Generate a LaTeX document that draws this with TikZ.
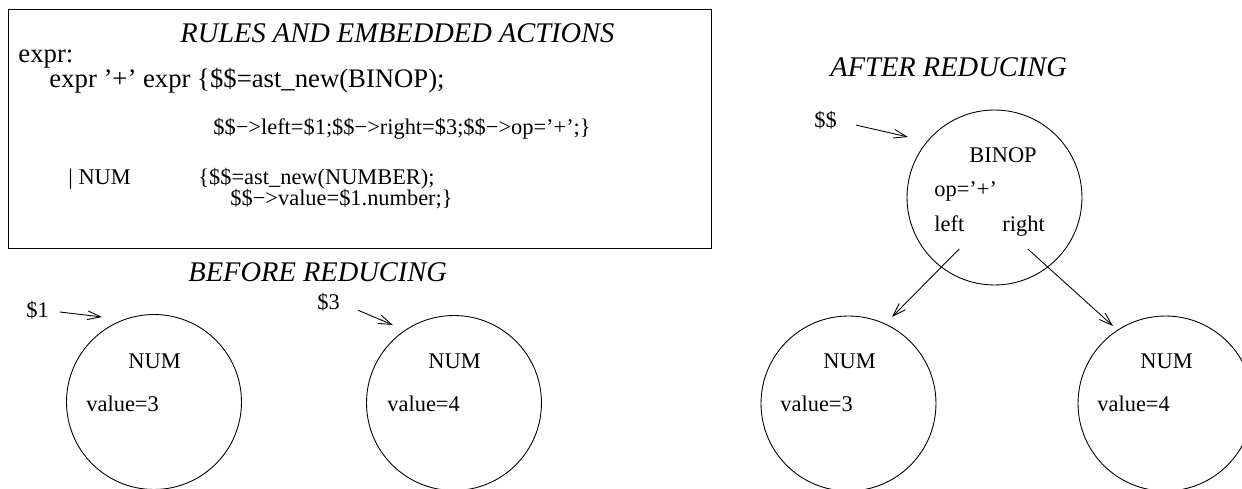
\documentclass[tikz,border=0pt]{standalone}
\usepackage{fontspec}
\setmainfont{Liberation Serif}
\usetikzlibrary{arrows.meta}

\tikzset{
  txt/.style={inner sep=0pt, anchor=base west, font=\fontsize{12.75}{15}\selectfont},
  bigtxt/.style={txt, font=\fontsize{15.2}{18}\selectfont},
  head/.style={inner sep=0pt, anchor=base west, font=\fontsize{16.2}{19}\selectfont\itshape},
  obj/.style={circle, draw, minimum size=3.5cm, inner sep=0pt},
  ptr/.style={-{Straight Barb[length=7.5pt,width=5pt]}},
}

\begin{document}
\begin{tikzpicture}[x=0.02cm, y=-0.02cm, line width=0.5pt]
  \useasboundingbox (0,0) rectangle (1242,489);
  \clip (0,0) rectangle (1242,489);
  % grammar rules
  \draw (8,9) rectangle (711,248);
  \node[head] (rules) at (180,43) {RULES AND EMBEDDED ACTIONS};
  \node[bigtxt] (lhs) at (18,63) {expr:};
  \node[bigtxt] (alt1) at (49,88) {expr '+' expr \{\$\$=ast\_new(BINOP);};
  \node[txt] (alt1b) at (213,135) {\$\$−>left=\$1;\$\$−>right=\$3;\$\$−>op='+';\}};
  \node[txt] (alt2) at (68,185) {| NUM};
  \node[txt] (alt2a) at (198,185) {\{\$\$=ast\_new(NUMBER);};
  \node[txt] (alt2b) at (230,206) {\$\$−>value=\$1.number;\}};

  % before reducing
  \node[head] (before) at (188,282) {BEFORE REDUCING};
  \node[obj] (num1) at (154,402) {};
  \node[txt] (num1tag) at (128,369) {NUM};
  \node[txt] (num1val) at (86,412) {value=3};
  \node[obj] (num3) at (454,403) {};
  \node[txt] (num3tag) at (428,369) {NUM};
  \node[txt] (num3val) at (387,412) {value=4};
  \node[txt] (ptr1) at (26,318) {\$1};
  \node[txt] (ptr3) at (317,310) {\$3};
  \coordinate (tip1) at (102,317);
  \coordinate (tip3) at (393,325);
  \draw[ptr, shorten <=6pt] (ptr1.east) -- (tip1);
  \draw[ptr, shorten <=11pt] (ptr3.east) -- (tip3);

  % after reducing
  \node[head] (after) at (830,77) {AFTER REDUCING};
  \node[obj] (binop) at (994.5,197.5) {};
  \node[txt] (binoptag) at (969,163) {BINOP};
  \node[txt] (binopop) at (934,197) {op='+'};
  \node[txt] (binleft) at (934,232) {left};
  \node[txt] (binright) at (1002,232) {right};
  \node[obj] (numL) at (848.5,403.5) {};
  \node[txt] (numLtag) at (823,369) {NUM};
  \node[txt] (numLval) at (780,412) {value=3};
  \node[obj] (numR) at (1165.5,403.5) {};
  \node[txt] (numRtag) at (1140,369) {NUM};
  \node[txt] (numRval) at (1097,412) {value=4};
  \node[txt] (ptrroot) at (814,128) {\$\$};
  \coordinate (tiproot) at (908,137);
  \coordinate (tipL) at (892,317);
  \coordinate (tipR) at (1113,326);
  \draw[ptr, shorten <=11pt] (ptrroot.east) -- (tiproot);
  \draw[ptr, shorten <=13pt] ([xshift=6pt]binleft.south east) -- (tipL);
  \draw[ptr, shorten <=10pt] ([xshift=-5pt]binright.south) -- (tipR);
\end{tikzpicture}
\end{document}
